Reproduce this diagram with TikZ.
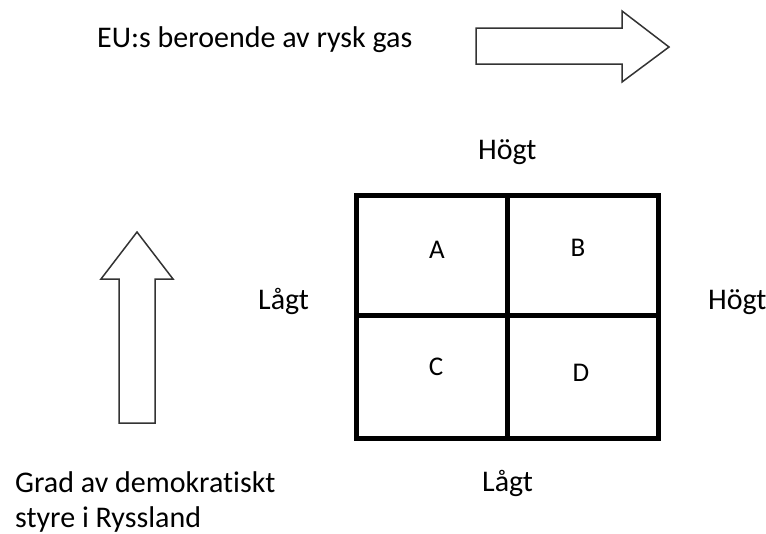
\documentclass[tikz,border=0pt]{standalone}
\usepackage{fontspec}
\setmainfont{Carlito}[RawFeature={-liga;-clig}]
\usepackage{tikz}

\begin{document}
\begin{tikzpicture}[x=1pt,y=-1pt,%%
  arrowStyle/.style={line width=1.5pt,draw=black!80,fill=white,line join=miter},%%
  gridStyle/.style={line width=5pt,black},%%
  labelStyle/.style={inner sep=0pt,anchor=base west,font=\fontsize{30}{35}\selectfont},%%
  cellStyle/.style={inner sep=0pt,anchor=base,font=\fontsize{27}{32}\selectfont}%%
]
%%
%%
\pgfmathsetmacro{\xlow}{356}
\pgfmathsetmacro{\xmid}{507}
\pgfmathsetmacro{\xhigh}{658}
\pgfmathsetmacro{\ylow}{195}
\pgfmathsetmacro{\ymid}{315}
\pgfmathsetmacro{\yhigh}{438}
%%
\useasboundingbox (0,0) rectangle (766,533);
%%
\coordinate (gridTL) at (\xlow,\ylow);
\coordinate (gridBR) at (\xhigh,\yhigh);
%%
%% Arrow for the EU dependence.
\draw[arrowStyle] (476,28) -- (622,28) -- (622,11) -- (669,47)
  -- (622,82) -- (622,64) -- (476,64) -- cycle;
\node[labelStyle] (euText) at (97,47) {EU:s beroende av rysk gas};
%% Arrow for the degree of democracy.
\draw[arrowStyle] (119,423) -- (119,279) -- (101,279) -- (137,232)
  -- (173,279) -- (155,279) -- (155,423) -- cycle;
\node[labelStyle,align=left] (demoText) at (15,527)
  {Grad av demokratiskt\\styre i Ryssland};
%% Draw the grid.
\draw[gridStyle] (gridTL) rectangle (gridBR);
\draw[gridStyle] (\xmid,\ylow) -- (\xmid,\yhigh);
\draw[gridStyle] (\xlow,\ymid) -- (\xhigh,\ymid);
%% Label the cells.
\node[cellStyle] (cellA) at (437,258) {A};
\node[cellStyle] (cellB) at (578,256) {B};
\node[cellStyle] (cellC) at (436,375) {C};
\node[cellStyle] (cellD) at (581,381) {D};
%% Label the sides.
\node[labelStyle] (topHigh) at (478,159) {Högt};
\node[labelStyle] (leftLow) at (258,309) {Lågt};
\node[labelStyle] (rightHigh) at (708,309) {Högt};
\node[labelStyle] (bottomLow) at (482,491) {Lågt};
\end{tikzpicture}
\end{document}
